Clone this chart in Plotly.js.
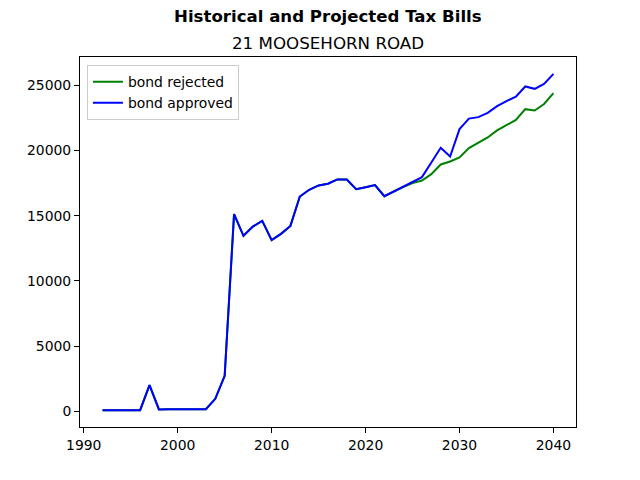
<!DOCTYPE html>
<html>
<head>
<meta charset="utf-8">
<script src="https://cdn.plot.ly/plotly-3.0.1.min.js"></script>
<style>html,body{margin:0;padding:0;background:#fff;}#chart{width:640px;height:480px;}</style>
</head>
<body>
<div id="chart"></div>
<script>
const years = [1992,1993,1994,1995,1996,1997,1998,1999,2000,2001,2002,2003,2004,2005,2006,2007,2008,2009,2010,2011,2012,2013,2014,2015,2016,2017,2018,2019,2020,2021,2022,2023,2024,2025,2026,2027,2028,2029,2030,2031,2032,2033,2034,2035,2036,2037,2038,2039,2040];
const bondRejected = [90,90,90,90,90,2010,150,160,160,165,170,170,960,2720,15120,13460,14170,14610,13130,13610,14220,16470,16990,17320,17450,17780,17780,17040,17190,17350,16500,16860,17190,17500,17700,18190,18930,19160,19470,20180,20620,21000,21540,21950,22350,23170,23070,23570,24400];
const bondApproved = [90,90,90,90,90,2010,150,160,160,165,170,170,960,2720,15120,13460,14170,14610,13130,13610,14220,16470,16990,17320,17450,17780,17780,17040,17190,17350,16500,16860,17190,17580,17960,19080,20210,19540,21640,22450,22560,22890,23400,23790,24120,24910,24730,25110,25880];
const seriesNames = ["bond rejected","bond approved"];
const suptitle = "Historical and Projected Tax Bills";
const subtitle = "21 MOOSEHORN ROAD";

const font = "DejaVu Sans, sans-serif";
const traces = [
  {x: years, y: bondRejected, name: seriesNames[0], type: "scatter", mode: "lines", line: {color: "green", width: 2}},
  {x: years, y: bondApproved, name: seriesNames[1], type: "scatter", mode: "lines", line: {color: "blue", width: 2}}
];
const axisCommon = {
  showgrid: false, zeroline: false, showline: true, linecolor: "black", linewidth: 1, mirror: true,
  ticks: "outside", ticklen: 5, tickwidth: 1, tickcolor: "black",
  tickfont: {family: font, size: 13.9, color: "black"}
};
const layout = {
  width: 640, height: 480,
  margin: {l: 80, r: 64, t: 57, b: 53},
  paper_bgcolor: "white", plot_bgcolor: "white",
  font: {family: font, color: "black"},
  showlegend: true,
  legend: {x: 0.014, y: 0.978, xanchor: "left", yanchor: "top", bgcolor: "white", bordercolor: "#cccccc", borderwidth: 1,
           font: {family: font, size: 13.9, color: "black"}, itemwidth: 30, tracegroupgap: 0},
  xaxis: Object.assign({}, axisCommon, {range: [1989.6, 2042.4], tickmode: "linear", tick0: 1990, dtick: 10}),
  yaxis: Object.assign({}, axisCommon, {range: [-1200, 27170], tickmode: "linear", tick0: 0, dtick: 5000, tickformat: "d"}),
  annotations: [
    {text: "<b>" + suptitle + "</b>", xref: "paper", yref: "paper", x: 0.5, y: 1, yshift: 41, xanchor: "center", yanchor: "middle", showarrow: false,
     font: {family: font, size: 16.6, color: "black"}},
    {text: subtitle, xref: "paper", yref: "paper", x: 0.5, y: 1, yshift: 14, xanchor: "center", yanchor: "middle", showarrow: false,
     font: {family: font, size: 16.7, color: "black"}}
  ]
};
Plotly.newPlot("chart", traces, layout, {staticPlot: true, displayModeBar: false});
</script>
</body>
</html>
